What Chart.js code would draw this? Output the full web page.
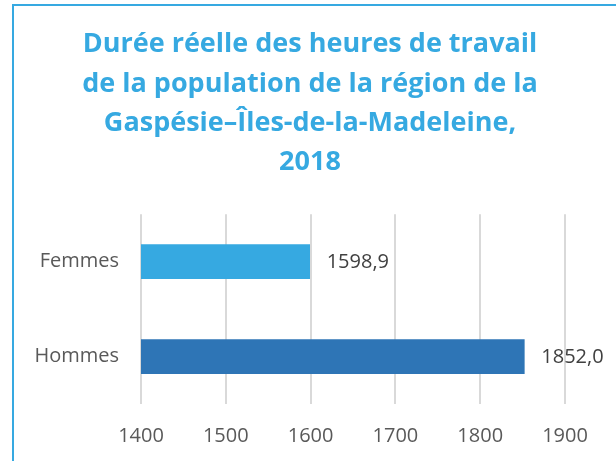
<!DOCTYPE html>
<html lang="fr">
<head>
<meta charset="utf-8">
<title>Durée réelle des heures de travail</title>
<script src="https://cdn.jsdelivr.net/npm/chart.js@4.4.1/dist/chart.umd.min.js"></script>
<style>
    html, body { margin: 0; padding: 0; background: #ffffff; overflow: hidden; }
    #wrap { width: 616px; height: 461px; }
</style>
</head>
<body>
<div id="wrap"><canvas id="chart" width="616" height="461"></canvas></div>
<script>
// Data
const categories = ['Femmes', 'Hommes'];
const hours = [1598.9, 1852.0];
const barColors = ['#36a9e1', '#2e75b6'];
const titleLines = [
    'Durée réelle des heures de travail',
    'de la population de la région de la',
    'Gaspésie–Îles-de-la-Madeleine,',
    '2018'
];
const axisMin = 1400;
const axisMax = 1900;
const axisStep = 100;

const frColor = '#36a9e1';

function formatValue(v) {
    return v.toFixed(1).replace('.', ',');
}

// Light blue frame around the chart (cut off on the right and bottom)
const framePlugin = {
    id: 'frame',
    beforeDraw(chart) {
        const ctx = chart.ctx;
        ctx.save();
        ctx.fillStyle = '#ffffff';
        ctx.fillRect(0, 0, chart.width, chart.height);
        ctx.strokeStyle = frColor;
        ctx.lineWidth = 2;
        ctx.strokeRect(13, 5, 800, 700);
        ctx.restore();
    }
};

// Value labels to the right of each bar
const valueLabels = {
    id: 'valueLabels',
    afterDatasetsDraw(chart) {
        const ctx = chart.ctx;
        const meta = chart.getDatasetMeta(0);
        ctx.save();
        ctx.font = '20px "Open Sans"';
        ctx.fillStyle = '#404040';
        ctx.textAlign = 'left';
        ctx.textBaseline = 'middle';
        meta.data.forEach((bar, i) => {
            ctx.fillText(formatValue(hours[i]), bar.x + 17, bar.y + 1);
        });
        ctx.restore();
    }
};

new Chart(document.getElementById('chart'), {
    type: 'bar',
    data: {
        labels: categories,
        datasets: [{
            data: hours,
            backgroundColor: barColors,
            borderWidth: 0,
            barThickness: 34
        }]
    },
    options: {
        indexAxis: 'y',
        responsive: false,
        animation: false,
        layout: {
            padding: { left: 4, right: 0, top: 0, bottom: 13 }
        },
        plugins: {
            legend: { display: false },
            tooltip: { enabled: false },
            title: {
                display: true,
                text: titleLines,
                color: frColor,
                font: { family: '"Open Sans"', size: 27, weight: 'bold', lineHeight: 1.456 },
                padding: { top: 25, bottom: 32 }
            }
        },
        scales: {
            x: {
                min: axisMin,
                max: axisMax,
                ticks: {
                    stepSize: axisStep,
                    color: '#595959',
                    font: { family: '"Open Sans"', size: 20 },
                    padding: 20,
                    maxRotation: 0,
                    callback: v => String(v)
                },
                grid: { color: '#d9d9d9', lineWidth: 2, drawTicks: false },
                border: { display: false },
                afterFit(scale) {
                    scale.paddingRight = 616 - 565;
                    scale.height = 44;
                }
            },
            y: {
                ticks: {
                    color: '#595959',
                    font: { family: '"Open Sans"', size: 20 },
                    padding: 22
                },
                grid: { display: false, drawTicks: false },
                border: { display: false },
                afterFit(scale) {
                    scale.width = 141 - 4;
                }
            }
        }
    },
    plugins: [framePlugin, valueLabels]
});
</script>
</body>
</html>
